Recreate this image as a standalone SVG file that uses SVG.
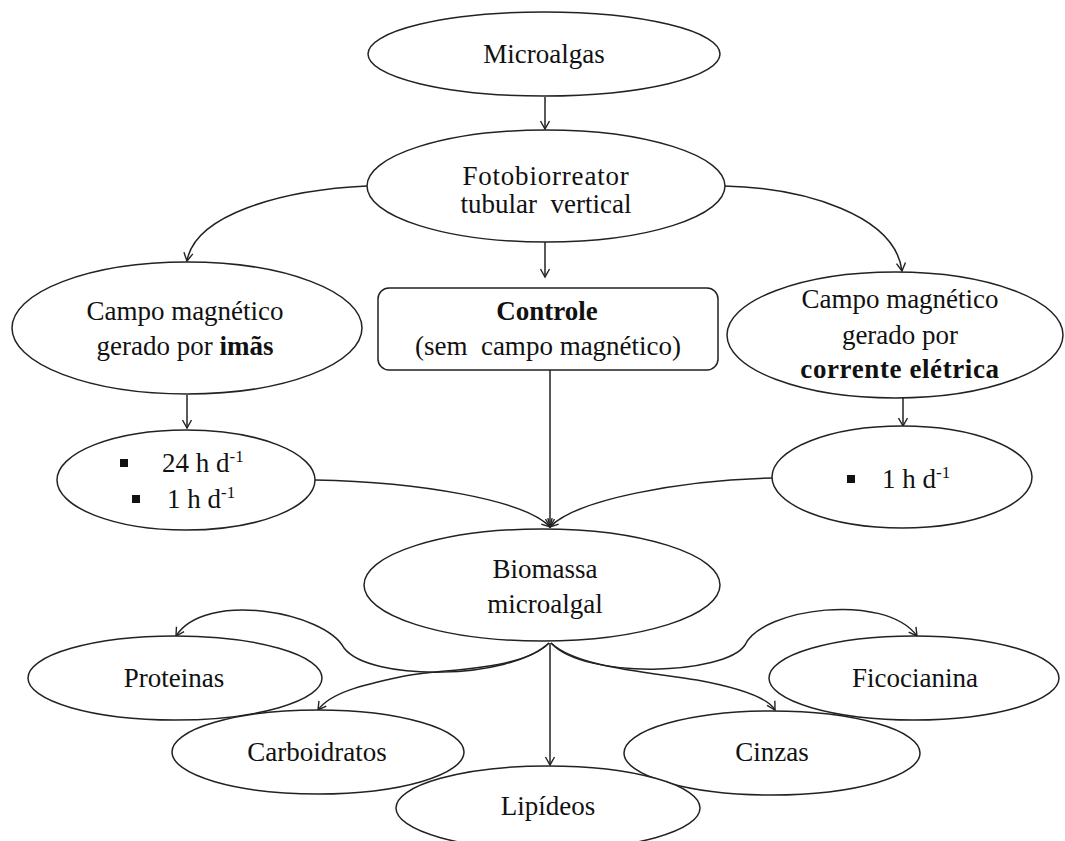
<svg xmlns="http://www.w3.org/2000/svg" width="1065" height="841" viewBox="0 0 1065 841">
<style>
  .node { fill: #fff; stroke: #222; stroke-width: 1.5; }
  .conn { fill: none; stroke: #222; stroke-width: 1.5; marker-end: url(#arr); }
  .sq { fill: #111; }
</style>
<defs>
  <marker id="arr" viewBox="-10 -6 12 12" refX="0" refY="0" markerWidth="12" markerHeight="12" markerUnits="userSpaceOnUse" orient="auto">
    <path d="M-8,-4.5 L0,0 L-8,4.5" fill="none" stroke="#222" stroke-width="1.4"/>
  </marker>
</defs>
<rect width="1065" height="841" fill="#fff"/>

<g id="connectors">
  <path class="conn" d="M545,97 L545,129"/>
  <path class="conn" d="M545,242 L545,277"/>
  <path class="conn" d="M367,186 C 280,190 195,215 187,261"/>
  <path class="conn" d="M724,186 C 805,188 895,215 902,271"/>
  <path class="conn" d="M187,395 L187,428"/>
  <path class="conn" d="M903,398 L903,426"/>
  <path class="conn" d="M550,370 L550,527"/>
  <path class="conn" d="M315,480 C 420,482 525,500 550,527"/>
  <path class="conn" d="M772,478 C 680,480 575,500 550,527"/>
  <path class="conn" d="M550,643 L550,765"/>
  <path class="conn" d="M549,643 C 510,680 370,682 344,648 C 325,612 205,590 176,636"/>
  <path class="conn" d="M549,643 C 520,672 440,668 400,677 C 362,685 330,693 318,710"/>
  <path class="conn" d="M551,643 C 578,668 650,672 697,680 C 740,688 768,698 775,710"/>
  <path class="conn" d="M551,643 C 585,680 725,675 745,645 C 762,608 885,592 917,636"/>
</g>

<g id="microalgas">
  <ellipse class="node" cx="544" cy="54" rx="176" ry="42"/>
  <text x="544" y="63" text-anchor="middle" font-size="27" fill="#111" style="font-family: 'Liberation Serif', serif">Microalgas</text>
</g>

<g id="fotobiorreator">
  <ellipse class="node" cx="546" cy="186" rx="179" ry="56"/>
  <text x="546" y="185" text-anchor="middle" font-size="27" fill="#111" letter-spacing="0.8" style="font-family: 'Liberation Serif', serif">Fotobiorreator</text>
  <text x="546" y="213" text-anchor="middle" font-size="27" fill="#111" xml:space="preserve" style="font-family: 'Liberation Serif', serif">tubular  vertical</text>
</g>

<g id="campo-imas">
  <ellipse class="node" cx="187" cy="328" rx="175" ry="66"/>
  <text x="185" y="320" text-anchor="middle" font-size="27" fill="#111" style="font-family: 'Liberation Serif', serif">Campo magnético</text>
  <text x="185" y="355" text-anchor="middle" font-size="27" fill="#111" style="font-family: 'Liberation Serif', serif">gerado por <tspan font-weight="bold">imãs</tspan></text>
</g>

<g id="controle">
  <rect class="node" x="378" y="288" width="340" height="82" rx="11" ry="11"/>
  <text x="547" y="320" text-anchor="middle" font-size="27" font-weight="bold" fill="#111" style="font-family: 'Liberation Serif', serif">Controle</text>
  <text x="548" y="355" text-anchor="middle" font-size="27" fill="#111" xml:space="preserve" style="font-family: 'Liberation Serif', serif">(sem  campo magnético)</text>
</g>

<g id="campo-corrente">
  <ellipse class="node" cx="895" cy="335" rx="168" ry="63"/>
  <text x="900" y="308" text-anchor="middle" font-size="27" fill="#111" style="font-family: 'Liberation Serif', serif">Campo magnético</text>
  <text x="900" y="344" text-anchor="middle" font-size="27" fill="#111" style="font-family: 'Liberation Serif', serif">gerado por</text>
  <text x="900" y="378" text-anchor="middle" font-size="27" font-weight="bold" fill="#111" letter-spacing="0.6" style="font-family: 'Liberation Serif', serif">corrente elétrica</text>
</g>

<g id="tempo-imas">
  <ellipse class="node" cx="186" cy="480" rx="129" ry="50"/>
  <rect class="sq" x="120" y="459" width="8" height="8"/>
  <text x="162" y="472" font-size="27" fill="#111" style="font-family: 'Liberation Serif', serif">24 h d<tspan font-size="17" dy="-10">-1</tspan></text>
  <rect class="sq" x="132" y="495" width="8" height="8"/>
  <text x="167" y="508" font-size="27" fill="#111" style="font-family: 'Liberation Serif', serif">1 h d<tspan font-size="17" dy="-10">-1</tspan></text>
</g>

<g id="tempo-corrente">
  <ellipse class="node" cx="902" cy="477" rx="130" ry="51"/>
  <rect class="sq" x="847" y="475" width="8" height="8"/>
  <text x="882" y="488" font-size="27" fill="#111" style="font-family: 'Liberation Serif', serif">1 h d<tspan font-size="17" dy="-10">-1</tspan></text>
</g>

<g id="biomassa">
  <ellipse class="node" cx="542" cy="585" rx="178" ry="56"/>
  <text x="545" y="578" text-anchor="middle" font-size="27" fill="#111" style="font-family: 'Liberation Serif', serif">Biomassa</text>
  <text x="545" y="613" text-anchor="middle" font-size="27" fill="#111" style="font-family: 'Liberation Serif', serif">microalgal</text>
</g>

<g id="proteinas">
  <ellipse class="node" cx="175" cy="678" rx="147" ry="42"/>
  <text x="174" y="687" text-anchor="middle" font-size="27" fill="#111" style="font-family: 'Liberation Serif', serif">Proteinas</text>
</g>

<g id="ficocianina">
  <ellipse class="node" cx="914" cy="678" rx="145" ry="42"/>
  <text x="915" y="687" text-anchor="middle" font-size="27" fill="#111" style="font-family: 'Liberation Serif', serif">Ficocianina</text>
</g>

<g id="carboidratos">
  <ellipse class="node" cx="318" cy="752" rx="146" ry="42"/>
  <text x="317" y="761" text-anchor="middle" font-size="27" fill="#111" style="font-family: 'Liberation Serif', serif">Carboidratos</text>
</g>

<g id="cinzas">
  <ellipse class="node" cx="772" cy="753" rx="148" ry="42"/>
  <text x="772" y="761" text-anchor="middle" font-size="27" fill="#111" style="font-family: 'Liberation Serif', serif">Cinzas</text>
</g>

<g id="lipideos">
  <ellipse class="node" cx="548" cy="808" rx="152" ry="42"/>
  <text x="548" y="815" text-anchor="middle" font-size="27" fill="#111" style="font-family: 'Liberation Serif', serif">Lipídeos</text>
</g>
</svg>
